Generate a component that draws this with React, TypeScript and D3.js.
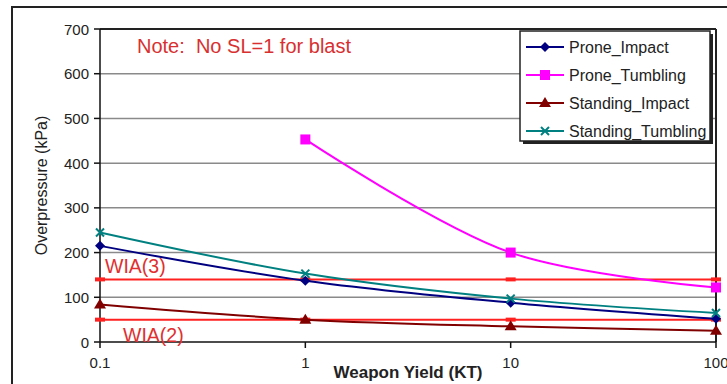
import React from "react";
import * as d3 from "d3";

const yields = [0.1, 1, 10, 100];
const proneImpact = [215, 137, 88, 52];
const proneTumbling = [null, 453, 200, 122];
const standingImpact = [84, 50, 35, 25];
const standingTumbling = [245, 153, 97, 65];
const wia3 = 140;
const wia2 = 50;
const yTicks = [0, 100, 200, 300, 400, 500, 600, 700];
const xTicks = [0.1, 1, 10, 100];

const seriesNames = ["Prone_Impact", "Prone_Tumbling", "Standing_Impact", "Standing_Tumbling"];
const seriesValues = [proneImpact, proneTumbling, standingImpact, standingTumbling];
const seriesColors = ["#000080", "#ff00ff", "#800000", "#008080"];
const seriesMarkers = ["diamond", "square", "triangle", "x"];

const W = 727, H = 384;
const L = 100, R = 716, T = 29, B = 342;
const x = d3.scaleLog().domain([0.1, 100]).range([L, R]);
const y = d3.scaleLinear().domain([0, 700]).range([B, T]);

function Marker({ kind, cx, cy, color }: { kind: string; cx: number; cy: number; color: string }) {
  if (kind === "diamond") {
    const s = 5;
    return <path d={`M${cx},${cy - s}L${cx + s},${cy}L${cx},${cy + s}L${cx - s},${cy}Z`} fill={color} />;
  }
  if (kind === "square") {
    return <rect x={cx - 5} y={cy - 5} width={10} height={10} fill={color} />;
  }
  if (kind === "triangle") {
    return <path d={`M${cx},${cy - 6}L${cx + 6},${cy + 4}L${cx - 6},${cy + 4}Z`} fill={color} />;
  }
  return (
    <path d={`M${cx - 4},${cy - 4}L${cx + 4},${cy + 4}M${cx - 4},${cy + 4}L${cx + 4},${cy - 4}`} stroke={color} strokeWidth={2} />
  );
}

export default function App() {
  const line = d3
    .line<[number, number]>()
    .x((d) => x(d[0]))
    .y((d) => y(d[1]))
    .curve(d3.curveCatmullRom.alpha(0.5));

  const font = "Liberation Sans, Arial, sans-serif";

  return (
    <svg width={W} height={H} style={{ position: "absolute", left: 0, top: 0, background: "#fff" }} fontFamily={font}>
      <rect x={0} y={0} width={W} height={H} fill="#fff" />
      {/* outer chart border */}
      <rect x={12} y={7} width={740} height={400} fill="none" stroke="#222" strokeWidth={2} />

      {/* gridlines */}
      {yTicks.slice(1, -1).map((t) => (
        <line key={t} x1={L} x2={R} y1={y(t)} y2={y(t)} stroke="#8a8a8a" strokeWidth={1.5} />
      ))}
      {/* plot frame */}
      <line x1={L} x2={R} y1={T} y2={T} stroke="#222" strokeWidth={2} />
      <line x1={R} x2={R} y1={T} y2={B} stroke="#222" strokeWidth={2} />

      {/* y axis */}
      <line x1={L} x2={L} y1={T} y2={B} stroke="#111" strokeWidth={1.5} />
      {yTicks.map((t) => (
        <g key={t}>
          <line x1={L - 6} x2={L} y1={y(t)} y2={y(t)} stroke="#111" strokeWidth={1.5} />
          <text x={L - 11} y={y(t) + 5.5} textAnchor="end" fontSize={15} fill="#222">
            {t}
          </text>
        </g>
      ))}
      {/* x axis */}
      <line x1={L} x2={R} y1={B} y2={B} stroke="#111" strokeWidth={1.5} />
      {xTicks.map((t) => (
        <g key={t}>
          <line x1={x(t)} x2={x(t)} y1={B} y2={B + 6} stroke="#111" strokeWidth={1.5} />
          <text x={x(t)} y={368} textAnchor="middle" fontSize={15} fill="#222">
            {t}
          </text>
        </g>
      ))}

      <text
        transform={`translate(47,${(T + B) / 2}) rotate(-90)`}
        textAnchor="middle"
        fontSize={16}
        fill="#222"
      >
        Overpressure (kPa)
      </text>
      <text x={408} y={378} textAnchor="middle" fontSize={17} fontWeight="bold" fill="#222">
        Weapon Yield (KT)
      </text>

      {/* WIA lines */}
      {[wia3, wia2].map((v) => (
        <g key={v}>
          <line x1={L} x2={R} y1={y(v)} y2={y(v)} stroke="#ff2020" strokeWidth={2} />
          {yields.map((yy) => (
            <line key={yy} x1={x(yy) - 5} x2={x(yy) + 5} y1={y(v)} y2={y(v)} stroke="#ff2020" strokeWidth={4} />
          ))}
        </g>
      ))}
      <text x={105} y={y(wia3) - 6} fontSize={19.5} fill="#e03030">
        WIA(3)
      </text>
      <text x={123} y={y(wia2) + 22} fontSize={19.5} fill="#e03030">
        WIA(2)
      </text>

      {/* series */}
      {seriesValues.map((vals, i) => {
        const pts = yields
          .map((yy, j) => [yy, vals[j]] as [number, number | null])
          .filter((p) => p[1] !== null) as [number, number][];
        return (
          <g key={i}>
            <path d={line(pts) || ""} fill="none" stroke={seriesColors[i]} strokeWidth={2} />
            {pts.map((p, j) => (
              <Marker key={j} kind={seriesMarkers[i]} cx={x(p[0])} cy={y(p[1])} color={seriesColors[i]} />
            ))}
          </g>
        );
      })}

      <text x={137} y={53} fontSize={20} fill="#d83030" style={{ whiteSpace: "pre" }}>
        {"Note:  No SL=1 for blast"}
      </text>

      {/* legend */}
      <rect x={523} y={34} width={190} height={110} fill="#222" />
      <rect x={520} y={31} width={190} height={110} fill="#fff" stroke="#222" strokeWidth={1.5} />
      {seriesNames.map((name, i) => {
        const ly = 47 + i * 28;
        return (
          <g key={name}>
            <line x1={526} x2={564} y1={ly} y2={ly} stroke={seriesColors[i]} strokeWidth={2} />
            <Marker kind={seriesMarkers[i]} cx={545} cy={ly} color={seriesColors[i]} />
            <text x={569} y={ly + 5.5} fontSize={16} fill="#222">
              {name}
            </text>
          </g>
        );
      })}
    </svg>
  );
}
